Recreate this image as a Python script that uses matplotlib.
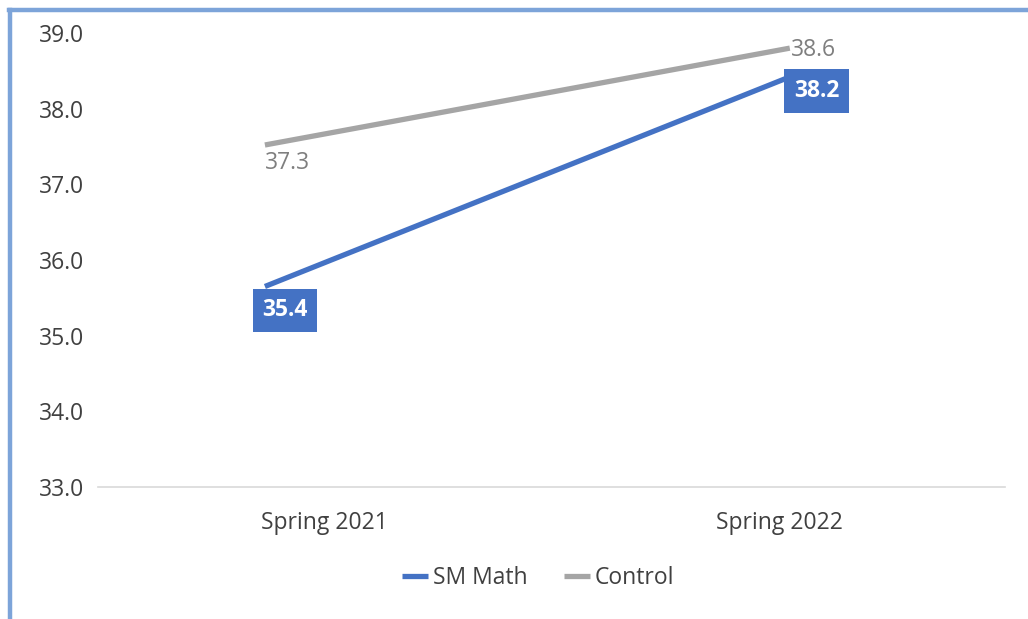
import numpy as np
import matplotlib
matplotlib.use("Agg")
import matplotlib.pyplot as plt
from matplotlib.lines import Line2D

plt.rcParams['font.family'] = ['Open Sans', 'DejaVu Sans']

# data
categories = ["Spring 2021", "Spring 2022"]
sm_math = [35.65, 38.42]
control = [37.52, 38.80]
sm_math_labels = ["35.4", "38.2"]
control_labels = ["37.3", "38.6"]
y_ticks = [33.0, 34.0, 35.0, 36.0, 37.0, 38.0, 39.0]

BLUE = '#4472C4'
GREY = '#A5A5A5'
TEXT = '#404040'
FRAME = '#7DA4D9'
FS = 16.5

fig = plt.figure(figsize=(10.28, 6.19), dpi=100)
ax = fig.add_axes([98 / 1028, 1 - 487 / 619, 907 / 1028, 454 / 619])

x = np.arange(len(categories))
ax.plot(x, sm_math, color=BLUE, lw=3.8, solid_capstyle='butt', label='SM Math')
ax.plot(x, control, color=GREY, lw=3.8, solid_capstyle='butt', label='Control')

ax.set_ylim(y_ticks[0], y_ticks[-1])
ax.set_xlim(-0.318, 1.41)
ax.set_yticks(y_ticks)
ax.set_yticklabels(['{:.1f}'.format(v) for v in y_ticks])
# category labels sit a little to the right of the line ends
ax.set_xticks(x + np.array([0.114, -0.019]))
ax.set_xticklabels(categories)
ax.tick_params(axis='both', length=0, labelsize=FS, labelcolor=TEXT)
ax.tick_params(axis='y', pad=10)
ax.tick_params(axis='x', pad=17)

for side in ['top', 'right', 'left']:
    ax.spines[side].set_visible(False)
ax.spines['bottom'].set_color('#D9D9D9')
ax.spines['bottom'].set_linewidth(1.2)

# control labels: plain grey text
ctrl_offsets = [(0, -18), (1, -2)]
for xi, yi, lab, off in zip(x, control, control_labels, ctrl_offsets):
    ax.annotate(lab, (xi, yi), xytext=off, textcoords='offset pixels',
                ha='left', va='center', fontsize=FS, color='#7F7F7F')

# SM Math labels: white bold text in blue boxes
sm_offsets = [(20, -24), (27, -14)]
for xi, yi, lab, off in zip(x, sm_math, sm_math_labels, sm_offsets):
    ax.annotate(lab, (xi, yi), xytext=off, textcoords='offset pixels',
                ha='center', va='center', fontsize=FS, color='white',
                fontweight='bold',
                bbox=dict(boxstyle='square,pad=0.42', fc=BLUE, ec='none'))

fig.legend(loc='center', bbox_to_anchor=(538 / 1028, 1 - 578 / 619),
           ncol=2, frameon=False, fontsize=FS, labelcolor=TEXT,
           handlelength=1.15, handletextpad=0.2, columnspacing=1.6)

# light blue frame along the left and top edges
fig.add_artist(Line2D([10 / 1028, 10 / 1028], [0, 1 - 10 / 619],
                      transform=fig.transFigure, color=FRAME, lw=3.2))
fig.add_artist(Line2D([8.5 / 1028, 1], [1 - 10 / 619, 1 - 10 / 619],
                      transform=fig.transFigure, color=FRAME, lw=3.2))

fig.savefig('out.png', dpi=100)
